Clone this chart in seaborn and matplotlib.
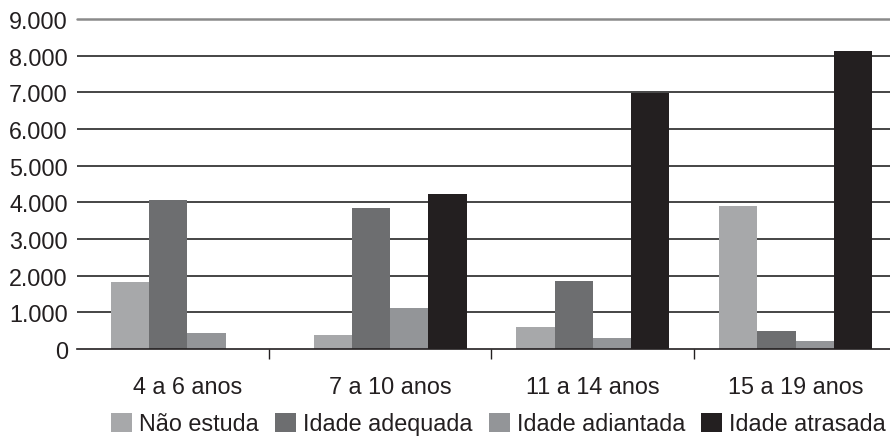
import matplotlib
matplotlib.use("Agg")
import matplotlib.pyplot as plt
from matplotlib.ticker import FixedLocator, FuncFormatter
import seaborn as sns
import pandas as pd

# Data: students by age bracket and school-age situation
faixas = ["4 a 6 anos", "7 a 10 anos", "11 a 14 anos", "15 a 19 anos"]
situacoes = ["Não estuda", "Idade adequada", "Idade adiantada", "Idade atrasada"]
nao_estuda = [1830, 380, 610, 3900]
idade_adequada = [4060, 3845, 1855, 490]
idade_adiantada = [445, 1120, 310, 220]
idade_atrasada = [0, 4220, 6970, 8120]
cores = ["#a7a8aa", "#6d6e70", "#939598", "#231f20"]

serie = {
    "Não estuda": nao_estuda,
    "Idade adequada": idade_adequada,
    "Idade adiantada": idade_adiantada,
    "Idade atrasada": idade_atrasada,
}
df = pd.DataFrame(
    [(f, s, serie[s][i]) for i, f in enumerate(faixas) for s in situacoes],
    columns=["faixa", "situacao", "valor"],
)

sns.set_theme(style="white")
plt.rcParams["font.family"] = ["Liberation Sans", "DejaVu Sans"]
texto = "#231f20"
fs = 16.8

fig = plt.figure(figsize=(8.9, 4.39), dpi=100)
ax = fig.add_axes([0.0865, 0.2027, 0.9135, 0.7517])

sns.barplot(
    data=df, x="faixa", y="valor", hue="situacao",
    order=faixas, hue_order=situacoes, palette=cores,
    width=0.755, saturation=1, linewidth=0, ax=ax,
)

ax.set_ylim(0, 9000)
ax.set_xlim(-0.545, 3.466)
ax.set_xlabel("")
ax.set_ylabel("")

# horizontal gridlines
for v in range(1000, 9000, 1000):
    ax.axhline(v, color="#262626", lw=1.2, zorder=0)
ax.axhline(9000, color="#8a8a8a", lw=1.8, zorder=0, clip_on=False)
ax.set_axisbelow(True)

for s in ["top", "right", "left"]:
    ax.spines[s].set_visible(False)
ax.spines["bottom"].set_color("#231f20")
ax.spines["bottom"].set_linewidth(1.2)

ax.yaxis.set_major_locator(FixedLocator(range(0, 9001, 1000)))
ax.yaxis.set_major_formatter(
    FuncFormatter(lambda v, p: f"{v:,.0f}".replace(",", "."))
)
ax.tick_params(axis="y", length=0, pad=6.5, labelsize=fs, labelcolor=texto)
ax.tick_params(axis="x", which="major", length=0, pad=19, labelsize=fs,
               labelcolor=texto)
ax.xaxis.set_minor_locator(FixedLocator([0.4, 1.5, 2.5]))
ax.tick_params(axis="x", which="minor", length=7.5, width=1.0,
               color="#231f20", direction="out", bottom=True)

handles, labels = ax.get_legend_handles_labels()
if ax.get_legend() is not None:
    ax.get_legend().remove()
fig.legend(
    handles, labels, loc="lower center", bbox_to_anchor=(0.56, 0.006),
    ncol=4, frameon=False, fontsize=fs, labelcolor=texto,
    handlelength=0.9, handleheight=0.9, handletextpad=0.3,
    columnspacing=0.7, borderaxespad=0, borderpad=0,
)

fig.savefig("out.png", dpi=100)
